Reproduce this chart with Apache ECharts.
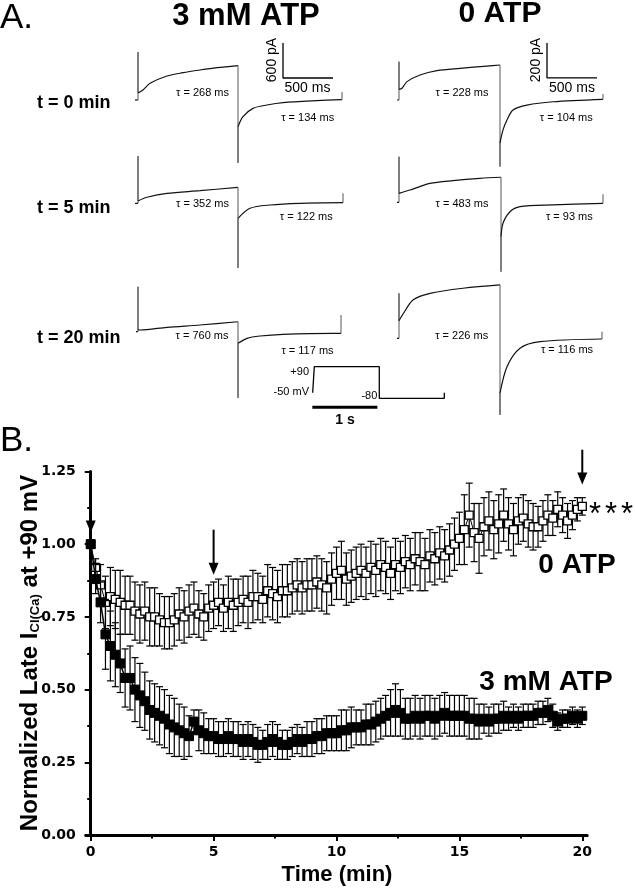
<!DOCTYPE html>
<html><head><meta charset="utf-8">
<script src="https://cdn.jsdelivr.net/npm/echarts@6/dist/echarts.min.js"></script>
<style>html,body{margin:0;padding:0;background:#fff}#c{width:635px;height:889px}</style>
</head><body><div id="c"></div>
<script>
// ---------- Panel A: current traces [time ms, current pA relative to holding] ----------
const trace3mM_t0 = [[-30,0],[0,0],[0,823],[0,120],[50,171],[120,286],[290,411],[450,468],[620,514],[790,554],[1000,590],[1000,-1080],[1000,-457],[1050,-286],[1150,-143],[1290,-86],[1450,-46],[1790,-12],[2040,5],[2040,137]];
const trace3mM_t5 = [[-30,0],[0,0],[0,811],[0,39],[90,103],[290,171],[620,216],[1000,274],[1000,-1110],[1000,-257],[1120,-86],[1320,-29],[1620,0],[2050,10],[2050,171]];
const trace3mM_t20 = [[-20,0],[0,0],[0,771],[0,30],[20,29],[290,75],[620,115],[1000,171],[1000,-1136],[1000,-200],[1090,-114],[1220,-74],[1450,-45],[1950,-28],[2030,-28],[2030,286]];
const trace0_t0 = [[-20,0],[0,0],[0,219],[0,61],[30,67],[80,105],[210,143],[380,168],[610,181],[880,194],[1010,200],[1010,-381],[1010,-246],[1040,-171],[1080,-114],[1140,-57],[1280,-29],[1540,-10],[2040,4],[2040,34]];
const trace0_t5 = [[-20,0],[0,0],[0,261],[0,51],[110,70],[310,108],[540,124],[810,137],[1020,143],[1020,-397],[1020,-197],[1040,-120],[1110,-54],[1210,-25],[1540,-15],[2040,-6],[2040,46]];
const trace0_t20 = [[-20,0],[0,0],[0,257],[0,100],[45,143],[140,219],[310,257],[640,286],[1010,305],[1010,-438],[1010,-314],[1080,-162],[1210,-57],[1410,-19],[2030,-4],[2030,38]];
const tauStep = ['τ = 268 ms','τ = 352 ms','τ = 760 ms','τ = 228 ms','τ = 483 ms','τ = 226 ms'];
const tauTail = ['τ = 134 ms','τ = 122 ms','τ = 117 ms','τ = 104 ms','τ = 93 ms','τ = 116 ms'];
const rowLabels = ['t = 0 min','t = 5 min','t = 20 min'];
const colTitles = ['3 mM ATP','0 ATP'];
// voltage protocol [ms, mV]
const protocol = [[-25,-50],[0,-50],[0,90],[1000,90],[1000,-80],[2000,-80],[2000,-50]];
const protocolLabels = ['+90','-50 mV','-80','1 s'];
// scale bars [ms, pA]
const scaleLeft = [[1450,977],[1450,377],[1950,377]];
const scaleRight = [[1480,326],[1480,126],[1980,126]];

// ---------- Panel B ----------
const times = [0,0.2,0.4,0.6,0.8,1,1.2,1.4,1.6,1.8,
  2,2.2,2.4,2.6,2.8,3,3.2,3.4,3.6,3.8,
  4,4.2,4.4,4.6,4.8,5,5.2,5.4,5.6,5.8,
  6,6.2,6.4,6.6,6.8,7,7.2,7.4,7.6,7.8,
  8,8.2,8.4,8.6,8.8,9,9.2,9.4,9.6,9.8,
  10,10.2,10.4,10.6,10.8,11,11.2,11.4,11.6,11.8,
  12,12.2,12.4,12.6,12.8,13,13.2,13.4,13.6,13.8,
  14,14.2,14.4,14.6,14.8,15,15.2,15.4,15.6,15.8,
  16,16.2,16.4,16.6,16.8,17,17.2,17.4,17.6,17.8,
  18,18.2,18.4,18.6,18.8,19,19.2,19.4,19.6,19.8,
  20];
const atp3Mean = [1.00,0.88,0.80,0.69,0.65,0.62,0.59,0.54,0.54,0.50,
  0.48,0.46,0.43,0.42,0.41,0.40,0.38,0.37,0.36,0.35,
  0.34,0.39,0.36,0.35,0.34,0.34,0.33,0.33,0.34,0.33,
  0.33,0.32,0.33,0.32,0.31,0.31,0.32,0.33,0.32,0.31,
  0.31,0.32,0.33,0.32,0.33,0.33,0.34,0.34,0.35,0.35,
  0.35,0.36,0.36,0.37,0.37,0.37,0.38,0.38,0.39,0.40,
  0.41,0.42,0.43,0.42,0.40,0.40,0.41,0.40,0.41,0.41,
  0.40,0.41,0.42,0.41,0.41,0.41,0.41,0.40,0.40,0.39,
  0.40,0.39,0.40,0.40,0.41,0.40,0.41,0.40,0.41,0.41,
  0.41,0.42,0.42,0.43,0.41,0.39,0.40,0.40,0.41,0.40,
  0.41];
const atp3Err = [0,0.05,0.07,0.12,0.12,0.11,0.10,0.10,0.11,0.11,
  0.11,0.10,0.10,0.10,0.10,0.10,0.10,0.10,0.09,0.09,
  0.07,0.04,0.07,0.07,0.06,0.06,0.06,0.06,0.06,0.06,
  0.06,0.06,0.06,0.06,0.06,0.05,0.06,0.06,0.06,0.05,
  0.05,0.05,0.05,0.05,0.06,0.06,0.06,0.06,0.06,0.06,
  0.06,0.07,0.07,0.07,0.06,0.06,0.07,0.07,0.07,0.07,
  0.07,0.08,0.09,0.08,0.07,0.07,0.07,0.07,0.07,0.07,
  0.07,0.07,0.07,0.07,0.07,0.07,0.07,0.07,0.07,0.06,
  0.05,0.05,0.05,0.05,0.05,0.04,0.04,0.04,0.04,0.04,
  0.04,0.04,0.04,0.04,0.04,0.03,0.03,0.03,0.03,0.03,
  0.03];
const atp0Mean = [1.00,0.92,0.86,0.80,0.82,0.81,0.80,0.79,0.79,0.77,
  0.76,0.77,0.75,0.75,0.74,0.73,0.73,0.74,0.76,0.75,
  0.77,0.78,0.76,0.75,0.78,0.79,0.80,0.78,0.80,0.79,
  0.80,0.81,0.80,0.82,0.82,0.81,0.84,0.83,0.82,0.84,
  0.84,0.85,0.86,0.85,0.86,0.86,0.87,0.86,0.85,0.88,
  0.90,0.91,0.88,0.89,0.90,0.91,0.90,0.92,0.91,0.93,
  0.92,0.90,0.93,0.92,0.94,0.93,0.95,0.94,0.93,0.96,
  0.95,0.97,0.96,0.98,1.00,1.02,1.05,1.10,1.04,1.02,
  1.06,1.08,1.05,1.07,1.10,1.07,1.05,1.08,1.09,1.07,
  1.06,1.06,1.08,1.10,1.09,1.12,1.10,1.08,1.10,1.12,
  1.13];
const atp0Err = [0,0.03,0.07,0.09,0.10,0.10,0.11,0.10,0.10,0.10,
  0.10,0.10,0.10,0.10,0.09,0.09,0.09,0.09,0.09,0.09,
  0.09,0.09,0.08,0.08,0.08,0.08,0.08,0.08,0.09,0.09,
  0.08,0.08,0.09,0.09,0.08,0.08,0.09,0.09,0.09,0.09,
  0.09,0.09,0.09,0.09,0.09,0.09,0.09,0.09,0.09,0.09,
  0.09,0.10,0.09,0.09,0.09,0.09,0.09,0.09,0.09,0.09,
  0.09,0.09,0.09,0.09,0.09,0.09,0.09,0.10,0.09,0.09,
  0.09,0.09,0.09,0.09,0.09,0.09,0.12,0.11,0.10,0.12,
  0.10,0.10,0.10,0.10,0.09,0.09,0.09,0.08,0.08,0.08,
  0.08,0.07,0.07,0.07,0.06,0.06,0.06,0.06,0.05,0.04,
  0.03];
const xTicks = [0,5,10,15,20];
const xMinorTicks = [2.5,7.5,12.5,17.5];
// arrows: [time, tail value, tip value]
const arrowTimes = [0,5,20];
const arrowTails = [1.19,1.05,1.325];
const arrowTips = [1.04,0.895,1.205];

const SANS = "'Liberation Sans', Arial, sans-serif";
const chart = echarts.init(document.getElementById('c'), null, {renderer:'canvas'});

// split a trace into monotone (smoothed) runs and vertical (straight) runs
function splitTrace(d){
  const segs=[]; let type=null, cur=[d[0]];
  for(let i=1;i<d.length;i++){
    const t = d[i][0]===d[i-1][0] ? 'v' : 'h';
    if(type!==null && t!==type){ segs.push({type:type, pts:cur}); cur=[d[i-1]]; }
    type=t; cur.push(d[i]);
  }
  segs.push({type:type, pts:cur});
  return segs;
}

const colLeft = [128, 389];
const holdY = [[100,203.3,331.7],[100,202.3,338.3]];
const colRange = [1500, 500];
const traces = [[trace3mM_t0,trace3mM_t5,trace3mM_t20],[trace0_t0,trace0_t5,trace0_t20]];

const grids=[], xAxes=[], yAxes=[], series=[];
let gi=0;
for (let c=0;c<2;c++) for (let r=0;r<3;r++){
  grids.push({left:colLeft[c], top:holdY[c][r]-87.5, width:230, height:175});
  xAxes.push({gridIndex:gi, type:'value', min:-100, max:2200, show:false});
  yAxes.push({gridIndex:gi, type:'value', min:-colRange[c], max:colRange[c], show:false});
  splitTrace(traces[c][r]).forEach(s=>{
    const isV = s.type==='v';
    series.push({type:'line', xAxisIndex:gi, yAxisIndex:gi, data:s.pts, symbol:'none',
      smooth: (!isV && s.pts.length>2) ? 0.3 : false,
      lineStyle:{color: isV ? '#555' : '#111', width: isV ? 1 : 1.2}, silent:true});
  });
  gi++;
}
// scale bars
series.push({type:'line', xAxisIndex:0, yAxisIndex:0, data:scaleLeft, symbol:'none', lineStyle:{color:'#000', width:1.3}});
series.push({type:'line', xAxisIndex:3, yAxisIndex:3, data:scaleRight, symbol:'none', lineStyle:{color:'#000', width:1.3}});
// protocol grid (index 6)
grids.push({left:307.8, top:363, width:143, height:46.5});
xAxes.push({gridIndex:6, type:'value', min:-100, max:2100, show:false});
yAxes.push({gridIndex:6, type:'value', min:-140, max:110, show:false});
series.push({type:'line', xAxisIndex:6, yAxisIndex:6, data:protocol, symbol:'none', lineStyle:{color:'#000', width:1.3}});
series.push({type:'line', xAxisIndex:6, yAxisIndex:6, data:[[-30,-128],[970,-128]], symbol:'none', lineStyle:{color:'#000', width:3}});

// panel B grid (index 7)
grids.push({left:85.8, right:47.8, top:471.5, bottom:54});
const tickFont = {fontFamily:"'DejaVu Sans', sans-serif", fontWeight:'bold', fontSize:14, color:'#000'};
xAxes.push({gridIndex:7, type:'value', min:-0.2, max:20.2, position:'bottom',
  axisLine:{show:true, lineStyle:{color:'#000', width:3}},
  axisTick:{show:true, customValues:xTicks, length:6, lineStyle:{color:'#000', width:2}},
  axisLabel:{show:true, customValues:xTicks, margin:10, ...tickFont},
  splitLine:{show:false}});
xAxes.push({gridIndex:7, type:'value', min:-0.2, max:20.2, position:'bottom',
  axisLine:{show:false},
  axisTick:{show:true, customValues:xMinorTicks, length:3.5, lineStyle:{color:'#000', width:2}},
  axisLabel:{show:false}, splitLine:{show:false}});
yAxes.push({gridIndex:7, type:'value', min:0, max:1.25, interval:0.25,
  axisLine:{show:true, lineStyle:{color:'#000', width:3}},
  axisTick:{show:true, length:6, lineStyle:{color:'#000', width:2}},
  minorTick:{show:true, splitNumber:2, length:3.5, lineStyle:{color:'#000', width:2}},
  axisLabel:{margin:10, formatter:v=>v.toFixed(2), ...tickFont},
  splitLine:{show:false}, minorSplitLine:{show:false}});

function errRender(params, api){
  const t=api.value(0), m=api.value(1), e=api.value(2);
  if(!e) return {type:'group', children:[]};
  const a=api.coord([t,m+e]), b=api.coord([t,m-e]);
  const w=3.5, st={stroke:'#000', lineWidth:1.2};
  return {type:'group', children:[
    {type:'line', shape:{x1:a[0],y1:a[1],x2:b[0],y2:b[1]}, style:st},
    {type:'line', shape:{x1:a[0]-w,y1:a[1],x2:a[0]+w,y2:a[1]}, style:st},
    {type:'line', shape:{x1:b[0]-w,y1:b[1],x2:b[0]+w,y2:b[1]}, style:st}
  ]};
}
const err0 = times.map((t,i)=>[t, atp0Mean[i], atp0Err[i]]);
const err3 = times.map((t,i)=>[t, atp3Mean[i], atp3Err[i]]);
series.push({type:'custom', xAxisIndex:7, yAxisIndex:7, data:err0, renderItem:errRender, clip:false, z:2});
series.push({type:'line', xAxisIndex:7, yAxisIndex:7, data:times.map((t,i)=>[t,atp0Mean[i]]),
  symbol:'rect', symbolSize:8, showAllSymbol:true,
  itemStyle:{color:'#fff', borderColor:'#000', borderWidth:1.3},
  lineStyle:{color:'#000', width:1}, z:3});
series.push({type:'custom', xAxisIndex:7, yAxisIndex:7, data:err3, renderItem:errRender, clip:false, z:4});
series.push({type:'line', xAxisIndex:7, yAxisIndex:7, data:times.map((t,i)=>[t,atp3Mean[i]]),
  symbol:'rect', symbolSize:9, showAllSymbol:true,
  itemStyle:{color:'#000', borderColor:'#000', borderWidth:1},
  lineStyle:{color:'#000', width:1.5}, z:5});
series.push({type:'custom', xAxisIndex:7, yAxisIndex:7, clip:false, z:6,
  data:arrowTimes.map((t,i)=>[t, arrowTails[i], arrowTips[i]]),
  renderItem:function(params, api){
    const a=api.coord([api.value(0), api.value(1)]), b=api.coord([api.value(0), api.value(2)]);
    return {type:'group', children:[
      {type:'line', shape:{x1:a[0],y1:a[1],x2:b[0],y2:b[1]-8}, style:{stroke:'#000', lineWidth:2}},
      {type:'polygon', shape:{points:[[b[0]-5,b[1]-12],[b[0]+5,b[1]-12],[b[0],b[1]]]}, style:{fill:'#000'}}
    ]};
  }});

// ---------- text ----------
function txt(x,y,text,font,align,extra){
  return Object.assign({type:'text', x:x, y:y, silent:true,
    style:{text:text, font:font, fill:'#000', textAlign:align||'center', textVerticalAlign:'middle'}}, extra||{});
}
const g = [];
g.push(txt(0,18,'A.','35px '+SANS,'left'));
g.push(txt(0,441,'B.','35px '+SANS,'left'));
g.push(txt(246,16,colTitles[0],'bold 31px '+SANS));
g.push(txt(500,14,colTitles[1],'bold 30px '+SANS));
const rowY=[103.5,208,338.5];
rowLabels.forEach((s,i)=>g.push(txt(37,rowY[i],s,'bold 18px '+SANS,'left')));
const tauStepPos=[[202.5,93.3],[202.5,204.3],[202,335.7],[462,93.3],[462,204.3],[461.7,336]];
const tauTailPos=[[307.7,118],[306.3,217.3],[307.5,350.7],[566.3,118],[569.3,217.3],[567,350]];
tauStep.forEach((s,i)=>g.push(txt(tauStepPos[i][0],tauStepPos[i][1],s,'11px '+SANS)));
tauTail.forEach((s,i)=>g.push(txt(tauTailPos[i][0],tauTailPos[i][1],s,'11px '+SANS)));
// scale bar labels
g.push(txt(272.5,60,'600 pA','14px '+SANS,'center',{rotation:Math.PI/2}));
g.push(txt(307.5,88.5,'500 ms','14px '+SANS));
g.push(txt(535.8,60,'200 pA','14px '+SANS,'center',{rotation:Math.PI/2}));
g.push(txt(572,88.5,'500 ms','14px '+SANS));
// protocol labels
g.push(txt(309,371.7,protocolLabels[0],'11px '+SANS,'right'));
g.push(txt(309,392.3,protocolLabels[1],'11px '+SANS,'right'));
g.push(txt(377.3,395.7,protocolLabels[2],'11px '+SANS,'right'));
g.push(txt(345,420,protocolLabels[3],'bold 14px '+SANS));
// panel B labels
g.push(txt(577,565,'0 ATP','bold 28px '+SANS));
g.push(txt(546,682,'3 mM ATP','bold 28px '+SANS));
[595,611,627].forEach(x=>g.push(txt(x,515,'*','31px '+SANS)));
g.push(txt(337,875,'Time (min)','bold 22px '+SANS));
g.push({type:'text', x:27, y:653, rotation:Math.PI/2, silent:true,
  style:{text:'{a|Normalized Late I}{s|Cl(Ca)}{a| at +90 mV}', textAlign:'center', textVerticalAlign:'middle', fill:'#000',
    rich:{a:{fontFamily:SANS, fontWeight:'bold', fontSize:24, lineHeight:30, verticalAlign:'bottom'},
          s:{fontFamily:SANS, fontWeight:'bold', fontSize:13, lineHeight:14, verticalAlign:'bottom'}}}});

chart.setOption({animation:false, backgroundColor:'#fff', grid:grids, xAxis:xAxes, yAxis:yAxes, series:series, graphic:g});
</script></body></html>
